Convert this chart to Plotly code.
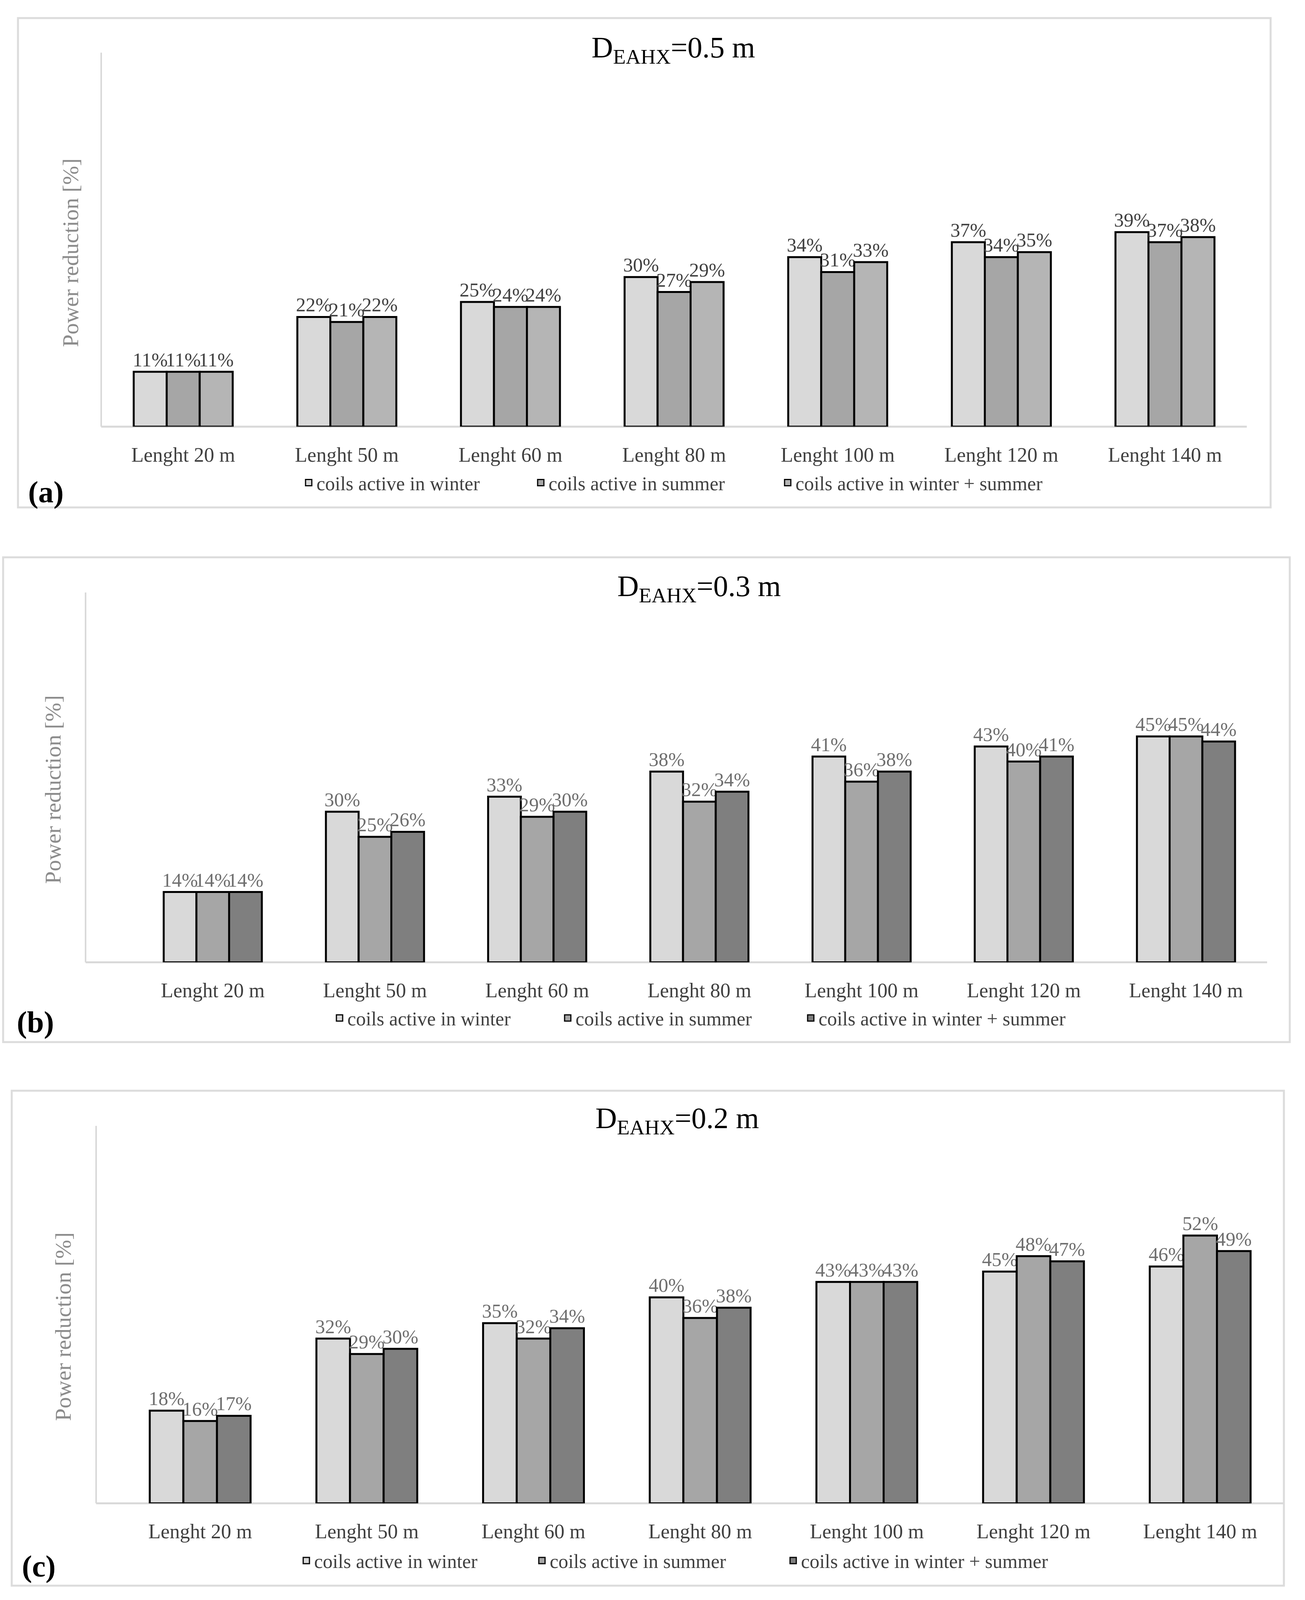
import plotly.graph_objects as go

# ---------------- data ----------------
categories = ["Lenght 20 m", "Lenght 50 m", "Lenght 60 m", "Lenght 80 m",
              "Lenght 100 m", "Lenght 120 m", "Lenght 140 m"]
series_names = ["coils active in winter", "coils active in summer",
                "coils active in winter + summer"]

a_winter = [11, 22, 25, 30, 34, 37, 39]
a_summer = [11, 21, 24, 27, 31, 34, 37]
a_both = [11, 22, 24, 29, 33, 35, 38]

b_winter = [14, 30, 33, 38, 41, 43, 45]
b_summer = [14, 25, 29, 32, 36, 40, 45]
b_both = [14, 26, 30, 34, 38, 41, 44]

c_winter = [18, 32, 35, 40, 43, 45, 46]
c_summer = [16, 29, 32, 36, 43, 48, 52]
c_both = [17, 30, 34, 38, 43, 47, 49]

panel_titles = ["D<sub>EAHX</sub>=0.5 m", "D<sub>EAHX</sub>=0.3 m", "D<sub>EAHX</sub>=0.2 m"]
panel_tags = ["(a)", "(b)", "(c)"]
y_title = "Power reduction [%]"

# ---------------- layout geometry (pixels of the 3340x5231 reference) ----------------
W, H = 3340, 5231
FONT = "Liberation Serif"


def px(x):
    return x / W


def py(y):
    return 1 - y / H


panels = [
    dict(series=[a_winter, a_summer, a_both],
         colors=["#d9d9d9", "#a6a6a6", "#b5b5b5"], label_color="#404040",
         plot=(259.5, 3191, 172, 1395), yrange=75, yline_x=259, base_x0=259,
         border=(46, 59, 3252, 1659), title_xy=(1723, 162), tag_xy=(118, 1608),
         ytitle_xy=(181, 827), legend_y=1578, legend_x=[790, 1384, 2016]),
    dict(series=[b_winter, b_summer, b_both],
         colors=["#d9d9d9", "#a6a6a6", "#7f7f7f"], label_color="#6e6e6e",
         plot=(337, 3243, 1937, 3146), yrange=73.7, yline_x=219, base_x0=219,
         border=(8, 1822, 3301, 3407), title_xy=(1789, 1923), tag_xy=(90, 3341),
         ytitle_xy=(136, 2582), legend_y=3328, legend_x=[869, 1453, 2075]),
    dict(series=[c_winter, c_summer, c_both],
         colors=["#d9d9d9", "#a6a6a6", "#7f7f7f"], label_color="#6e6e6e",
         plot=(299, 3285, 3681, 4915), yrange=73.3, yline_x=246, base_x0=246,
         border=(30, 3566, 3286, 5184), title_xy=(1733, 3663), tag_xy=(99, 5120),
         ytitle_xy=(162, 4338), legend_y=5102, legend_x=[784, 1387, 2030]),
]

fig = go.Figure()
shapes = []
annotations = []
layout_axes = {}

for i, p in enumerate(panels):
    n = "" if i == 0 else str(i + 1)
    x0, x1, y0, y1 = p["plot"]
    for s, (vals, col, name) in enumerate(zip(p["series"], p["colors"], series_names)):
        k = i * 3 + s + 1
        legend_name = "legend" if k == 1 else "legend" + str(k)
        fig.add_trace(go.Bar(
            x=categories, y=vals, name=name,
            xaxis="x" + n, yaxis="y" + n,
            marker=dict(color=col, line=dict(color="#000000", width=5)),
            texttemplate="%{y:.0f}%", textposition="outside",
            textfont=dict(family=FONT, size=50, color=p["label_color"]),
            constraintext="none", cliponaxis=False,
            showlegend=False, hoverinfo="skip",
        ))
        # legend entry (square swatch with black outline, like the reference)
        fig.add_trace(go.Scatter(
            x=[None], y=[None], name=name, mode="markers",
            xaxis="x" + n, yaxis="y" + n,
            marker=dict(symbol="square", size=16, color=col,
                        line=dict(color="#000000", width=3)),
            legend=legend_name, hoverinfo="skip",
        ))
        layout_axes[legend_name] = dict(
            orientation="h", x=px(p["legend_x"][s] - 20), y=py(p["legend_y"]),
            xanchor="left", yanchor="middle", bgcolor="rgba(0,0,0,0)",
            itemsizing="trace",
            font=dict(family=FONT, size=50, color="#404040"),
        )
    layout_axes["xaxis" + n] = dict(
        domain=[px(x0), px(x1)], anchor="y" + n,
        showgrid=False, showline=False, zeroline=False,
        ticks="outside", ticklen=26, tickcolor="rgba(0,0,0,0)",
        tickfont=dict(family=FONT, size=52, color="#404040"),
        categoryorder="array", categoryarray=categories,
    )
    layout_axes["yaxis" + n] = dict(
        domain=[py(y1), py(y0)], anchor="x" + n, range=[0, p["yrange"]],
        showgrid=False, showline=False, zeroline=False, showticklabels=False,
    )
    # panel border
    bx0, by0, bx1, by1 = p["border"]
    shapes.append(dict(type="rect", xref="paper", yref="paper",
                       x0=px(bx0), x1=px(bx1), y0=py(by1), y1=py(by0),
                       line=dict(color="#dcdcdc", width=5), layer="below"))
    # y axis line
    shapes.append(dict(type="line", xref="paper", yref="paper",
                       x0=px(p["yline_x"]), x1=px(p["yline_x"]), y0=py(y1), y1=py(y0),
                       line=dict(color="#d9d9d9", width=4), layer="below"))
    # category axis baseline
    shapes.append(dict(type="line", xref="paper", yref="paper",
                       x0=px(p["base_x0"]), x1=px(x1), y0=py(y1), y1=py(y1),
                       line=dict(color="#d9d9d9", width=5), layer="below"))
    # title
    annotations.append(dict(text=panel_titles[i], xref="paper", yref="paper",
                            x=px(p["title_xy"][0]), y=py(p["title_xy"][1]),
                            xanchor="center", yanchor="middle", showarrow=False,
                            font=dict(family=FONT, size=76, color="#000000")))
    # panel tag
    annotations.append(dict(text="<b>" + panel_tags[i] + "</b>", xref="paper", yref="paper",
                            x=px(p["tag_xy"][0]), y=py(p["tag_xy"][1]),
                            xanchor="center", yanchor="middle", showarrow=False,
                            font=dict(family=FONT, size=78, color="#000000")))
    # y axis title
    annotations.append(dict(text=y_title, xref="paper", yref="paper",
                            x=px(p["ytitle_xy"][0]), y=py(p["ytitle_xy"][1]),
                            xanchor="center", yanchor="middle", showarrow=False,
                            textangle=-90,
                            font=dict(family=FONT, size=58, color="#8c8c8c")))

fig.update_layout(
    width=W, height=H, margin=dict(l=0, r=0, t=0, b=0),
    paper_bgcolor="#ffffff", plot_bgcolor="rgba(0,0,0,0)",
    barmode="group", bargap=0.395, bargroupgap=0,
    shapes=shapes, annotations=annotations, showlegend=True,
    **layout_axes,
)

# Everything above is placed in paper fractions, so if the browser viewport is
# shorter than the requested figure height, fit the figure to it (no cropping).
fit_js = """
document.body.style.margin = '0';
document.documentElement.style.overflow = 'hidden';
var gd = document.getElementById('{plot_id}');
var vh = window.innerHeight;
if (vh && vh < %d) { Plotly.relayout(gd, {height: vh}); }
""" % H
fig.write_html("out.html", post_script=fit_js, config={"displayModeBar": False})
